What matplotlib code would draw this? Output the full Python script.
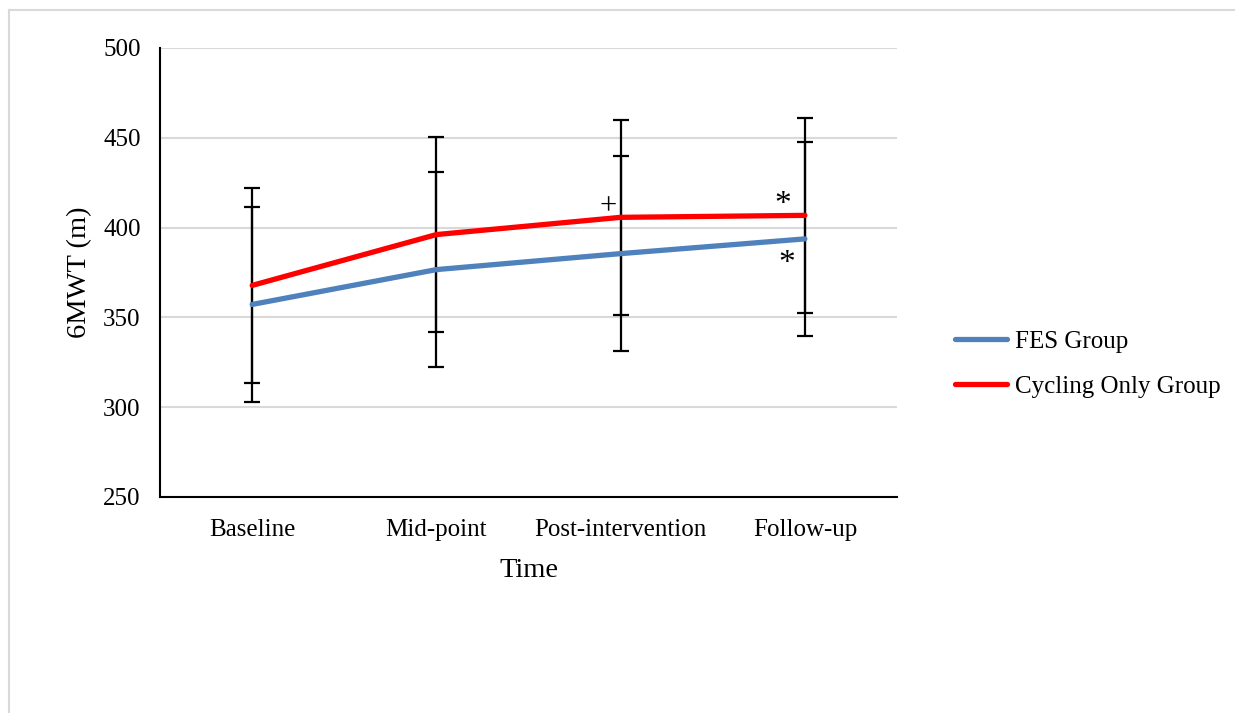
import numpy as np
import matplotlib.pyplot as plt
from matplotlib.lines import Line2D

# Data
time_points = ["Baseline", "Mid-point", "Post-intervention", "Follow-up"]
fes_mean = [357.2, 376.6, 385.5, 393.7]
fes_sd = [54.5, 54.1, 54.1, 54.2]
cyc_mean = [367.8, 396.1, 405.7, 406.8]
cyc_sd = [54.2, 54.2, 54.3, 54.1]

plt.rcParams["font.family"] = ["Liberation Serif", "DejaVu Serif"]

fig = plt.figure(figsize=(12.35, 7.13), dpi=100)
ax = fig.add_axes([0.1296, 0.3030, 0.5967, 0.6297])

x = np.arange(len(time_points))

ax.errorbar(x, fes_mean, yerr=fes_sd, fmt="none", ecolor="black",
            elinewidth=1.6, capsize=6, capthick=1.6, zorder=2)
ax.errorbar(x, cyc_mean, yerr=cyc_sd, fmt="none", ecolor="black",
            elinewidth=1.6, capsize=6, capthick=1.6, zorder=2)
ax.plot(x, fes_mean, color="#4F81BD", lw=3.8, label="FES Group",
        solid_capstyle="round", zorder=3)
ax.plot(x, cyc_mean, color="#FF0000", lw=3.8, label="Cycling Only Group",
        solid_capstyle="round", zorder=3)

# significance markers
ax.text(2 - 0.07, cyc_mean[2] + 6, "+", fontsize=22, ha="center", va="center")
ax.text(3 - 0.12, cyc_mean[3] + 6, "*", fontsize=24, ha="center", va="center")
ax.text(3 - 0.10, fes_mean[3] - 14, "*", fontsize=24, ha="center", va="center")

ax.set_xlim(-0.5, 3.5)
ax.set_ylim(250, 500)
ax.set_yticks(np.arange(250, 501, 50))
ax.set_xticks(x)
ax.set_xticklabels(time_points)
ax.tick_params(axis="both", length=0, labelsize=18)
ax.tick_params(axis="y", pad=14)
ax.tick_params(axis="x", pad=16)

ax.grid(axis="y", color="#d9d9d9", lw=1.5)
ax.set_axisbelow(True)
for s in ["top", "right"]:
    ax.spines[s].set_visible(False)
ax.spines["left"].set_linewidth(1.5)
ax.spines["bottom"].set_linewidth(1.5)

ax.set_xlabel("Time", fontsize=20.5, labelpad=12)
ax.set_ylabel("6MWT (m)", fontsize=20.5, labelpad=8)

ax.legend(loc="center left", bbox_to_anchor=(1.048, 0.296), frameon=False,
          fontsize=18, handlelength=2.1, labelspacing=0.88, handletextpad=0.3)

# light border around the chart area
fig.add_artist(Line2D([8.5 / 1235, 8.5 / 1235], [0, 1 - 9.5 / 713],
                      color="#d9d9d9", lw=1.5))
fig.add_artist(Line2D([8.5 / 1235, 1], [1 - 9.5 / 713, 1 - 9.5 / 713],
                      color="#d9d9d9", lw=1.5))

fig.savefig("out.png", dpi=100)
